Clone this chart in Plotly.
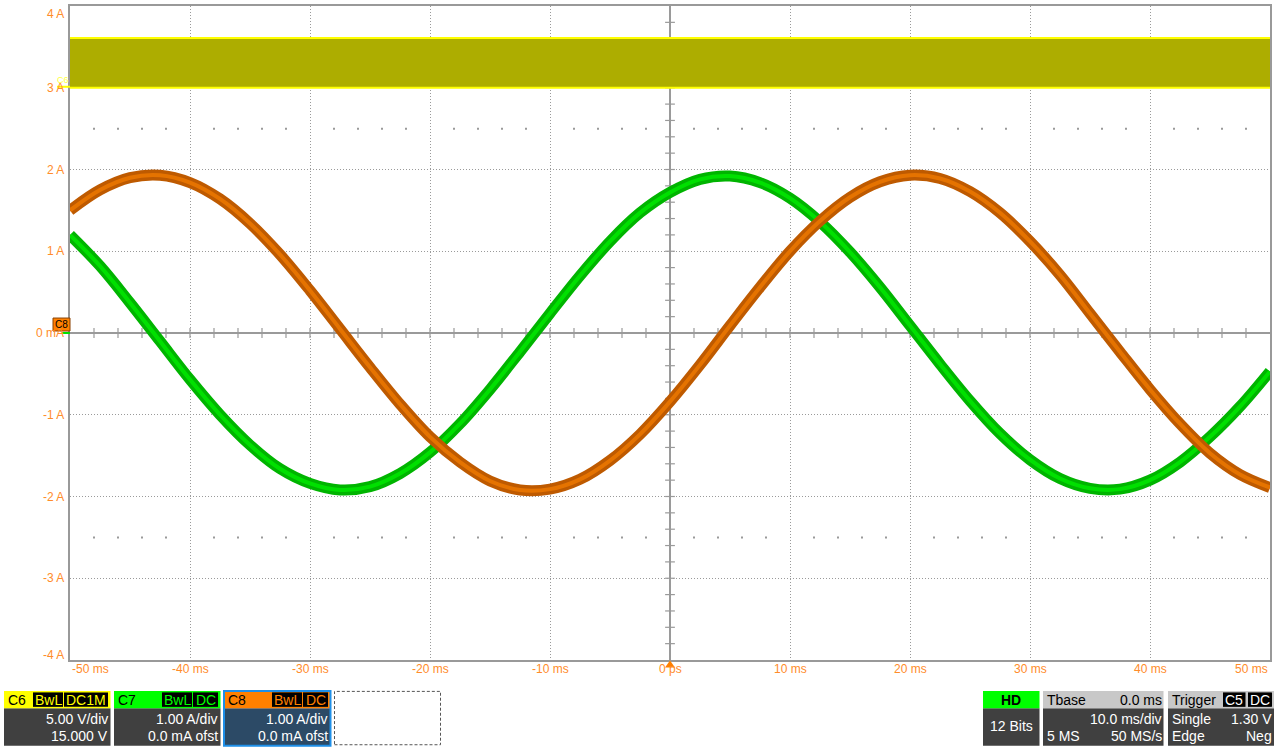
import plotly.graph_objects as go

# ---------------- data ----------------
time_ms = [-50, -47.5, -45, -42.5, -40, -37.5, -35, -32.5, -30, -27.5, -25, -22.5, -20, -17.5,
           -15, -12.5, -10, -7.5, -5, -2.5, 0, 2.5, 5, 7.5, 10, 12.5, 15, 17.5, 20, 22.5, 25,
           27.5, 30, 32.5, 35, 37.5, 40, 42.5, 45, 47.5, 50]

c7_green_A = [1.20, 0.82, 0.37, -0.10, -0.57, -1.00, -1.37, -1.66, -1.84, -1.92, -1.88, -1.72,
              -1.46, -1.11, -0.69, -0.23, 0.24, 0.70, 1.12, 1.47, 1.72, 1.88, 1.92, 1.84, 1.65,
              1.36, 0.99, 0.56, 0.09, -0.38, -0.83, -1.23, -1.55, -1.78, -1.90, -1.91, -1.80,
              -1.58, -1.27, -0.90, -0.47]

c8_orange_A = [1.50, 1.75, 1.90, 1.93, 1.84, 1.64, 1.34, 0.96, 0.52, 0.05, -0.42, -0.87, -1.27,
               -1.58, -1.81, -1.92, -1.91, -1.79, -1.56, -1.24, -0.84, -0.39, 0.09, 0.56, 1.00,
               1.37, 1.66, 1.85, 1.93, 1.89, 1.73, 1.47, 1.12, 0.71, 0.24, -0.23, -0.69, -1.11,
               -1.47, -1.73, -1.89]

c6_time_ms = [-50, 50]
c6_upper = [3.61, 3.61]
c6_lower = [3.00, 3.00]

x_tick_vals = [-50, -40, -30, -20, -10, 0, 10, 20, 30, 40, 50]
x_tick_text = ["-50 ms", "-40 ms", "-30 ms", "-20 ms", "-10 ms", "0 ps", "10 ms", "20 ms",
               "30 ms", "40 ms", "50 ms"]
y_tick_vals = [4, 3, 2, 1, 0, -1, -2, -3, -4]
y_tick_text = ["4 A", "3 A", "2 A", "1 A", "0 mA", "-1 A", "-2 A", "-3 A", "-4 A"]

# ---------------- helpers ----------------
W, H = 1280, 747
L, R, T, B = 70, 1270, 4, 660


def px(X):
    return (X - L) / (R - L)


def py(Y):
    return (B - Y) / (B - T)


FONT = "Liberation Sans, Arial, sans-serif"
LABEL_COL = "#FF8C2A"
GRID_COL = "#9a9a9a"

fig = go.Figure()

# sub-grid dot rows at +/-2.5 A
dot_x = [x for x in range(-48, 50, 2) if x % 10 != 0]
for yv in (2.5, -2.5):
    fig.add_trace(go.Scatter(x=dot_x, y=[yv] * len(dot_x), mode="markers",
                             marker=dict(symbol="square", size=2, color=GRID_COL),
                             hoverinfo="skip"))

# center-axis minor ticks
tx = [x for x in range(-48, 50, 2) if x != 0]
fig.add_trace(go.Scatter(x=tx, y=[0] * len(tx), mode="markers",
                         marker=dict(symbol="line-ns", size=7,
                                     line=dict(color=GRID_COL, width=1.2)),
                         hoverinfo="skip"))
ty = [k / 5 for k in range(-19, 20) if k != 0]
fig.add_trace(go.Scatter(x=[0] * len(ty), y=ty, mode="markers",
                         marker=dict(symbol="line-ew", size=7,
                                     line=dict(color=GRID_COL, width=1.2)),
                         hoverinfo="skip"))

# C6 band
fig.add_trace(go.Scatter(x=c6_time_ms, y=c6_lower, mode="lines",
                         line=dict(color="#FFFF00", width=2), hoverinfo="skip"))
fig.add_trace(go.Scatter(x=c6_time_ms, y=c6_upper, mode="lines", fill="tonexty",
                         fillcolor="#ADAD00", line=dict(color="#FFFF00", width=2),
                         hoverinfo="skip"))

# C7 green
fig.add_trace(go.Scatter(x=time_ms, y=c7_green_A, mode="lines", line_shape="spline",
                         line=dict(color="#00B400", width=11), hoverinfo="skip"))
fig.add_trace(go.Scatter(x=time_ms, y=c7_green_A, mode="lines", line_shape="spline",
                         line=dict(color="#00E000", width=4), hoverinfo="skip"))
# C8 orange
fig.add_trace(go.Scatter(x=time_ms, y=c8_orange_A, mode="lines", line_shape="spline",
                         line=dict(color="#BE5A00", width=11), hoverinfo="skip"))
fig.add_trace(go.Scatter(x=time_ms, y=c8_orange_A, mode="lines", line_shape="spline",
                         line=dict(color="#E57300", width=4), hoverinfo="skip"))

shapes = []
annotations = []

# center axes
shapes.append(dict(type="line", xref="x", yref="y", x0=0, x1=0, y0=-4, y1=4,
                   line=dict(color=GRID_COL, width=2), layer="below"))
shapes.append(dict(type="line", xref="x", yref="y", x0=-50, x1=50, y0=0, y1=0,
                   line=dict(color=GRID_COL, width=2), layer="below"))

# tick labels
for v, t in zip(y_tick_vals, y_tick_text):
    shift = -8 if v == 4 else (5 if v == -4 else 0)
    annotations.append(dict(xref="paper", yref="y", x=px(66), y=v, yshift=shift,
                            xanchor="right", yanchor="middle", text=t, showarrow=False,
                            font=dict(family=FONT, size=12, color=LABEL_COL)))
for v, t in zip(x_tick_vals, x_tick_text):
    anchor = "left" if v == -50 else ("right" if v == 50 else "center")
    annotations.append(dict(xref="x", yref="paper", x=v, y=py(669),
                            xanchor=anchor, yanchor="middle", text=t, showarrow=False,
                            font=dict(family=FONT, size=12, color=LABEL_COL)))

# trigger marker
shapes.append(dict(type="path", xref="paper", yref="paper",
                   path=f"M {px(670)} {py(660.5)} L {px(665)} {py(667.5)} L {px(675)} {py(667.5)} Z",
                   fillcolor="#FF8000", line=dict(width=0)))

# channel markers at left
shapes.append(dict(type="line", xref="paper", yref="paper", x0=px(57), x1=px(70),
                   y0=py(85), y1=py(85), line=dict(color="#FFFF00", width=2)))
annotations.append(dict(xref="paper", yref="paper", x=px(62.5), y=py(78), text="C6",
                        showarrow=False, xanchor="center", yanchor="middle",
                        font=dict(family=FONT, size=9, color="#FFFF40")))
shapes.append(dict(type="line", xref="paper", yref="paper", x0=px(62), x1=px(70),
                   y0=py(332), y1=py(332), line=dict(color="#00E000", width=2)))
shapes.append(dict(type="rect", xref="paper", yref="paper", x0=px(53), x1=px(70),
                   y0=py(330), y1=py(317), fillcolor="#FF8000",
                   line=dict(color="#8a4000", width=1)))
annotations.append(dict(xref="paper", yref="paper", x=px(61.5), y=py(323.5), text="C8",
                        showarrow=False, xanchor="center", yanchor="middle",
                        font=dict(family=FONT, size=10, color="#000000")))


def rect(x0, x1, y0, y1, fill, line_col=None, lw=0, dash=None):
    ln = dict(width=lw, color=line_col or fill)
    if dash:
        ln["dash"] = dash
    shapes.append(dict(type="rect", xref="paper", yref="paper", x0=px(x0), x1=px(x1),
                       y0=py(y1), y1=py(y0), fillcolor=fill, line=ln))


def text(x, y, s, color="#FFFFFF", anchor="left", size=14, bold=False):
    if bold:
        s = f"<b>{s}</b>"
    annotations.append(dict(xref="paper", yref="paper", x=px(x), y=py(y), text=s,
                            showarrow=False, xanchor=anchor, yanchor="middle",
                            borderpad=0,
                            font=dict(family=FONT, size=size, color=color)))


HDR0, HDR1, BODY1 = 691, 708.5, 746
BODY_COL = "#404040"

chan_boxes = [
    (4, 110.5, "#FFFF00", "C6", [("BwL", 33, 63), ("DC1M", 64, 108)], BODY_COL,
     "5.00 V/div", "15.000 V", "#FFFF00"),
    (114, 220.5, "#00FF00", "C7", [("BwL", 162, 192), ("DC", 193, 218)], BODY_COL,
     "1.00 A/div", "0.0 mA ofst", "#00FF00"),
    (224, 330.5, "#FF8000", "C8", [("BwL", 272, 302), ("DC", 303, 328)], "#2C4A66",
     "1.00 A/div", "0.0 mA ofst", "#FF8000"),
]
for x0, x1, hc, name, tags, bc, l1, l2, tc in chan_boxes:
    rect(x0, x1, HDR1, BODY1, bc)
    rect(x0, x1, HDR0, HDR1, hc)
    if name == "C8":
        rect(x0, x1, HDR0, BODY1, "rgba(0,0,0,0)", "#1E8FE8", 2)
    text(x0 + 3, (HDR0 + HDR1) / 2, name, color="#000000", size=14)
    for tg, a, b in tags:
        rect(a, b, HDR0 + 1.5, HDR1 - 1.5, "#000000")
        text((a + b) / 2, (HDR0 + HDR1) / 2, tg, color=tc, anchor="center", size=14)
    text(x1 - 1.5, 719, l1, anchor="right")
    text(x1 - 1.5, 736, l2, anchor="right")

rect(334.5, 440.5, 691.5, 745, "rgba(0,0,0,0)", "#555555", 1, dash="3px,2px")

rect(983, 1039.5, HDR1, BODY1, BODY_COL)
rect(983, 1039.5, HDR0, HDR1, "#00FF00")
text(1011, (HDR0 + HDR1) / 2, "HD", color="#000000", anchor="center", size=14, bold=True)
text(1011, 726, "12 Bits", anchor="center")

rect(1043, 1163.5, HDR1, BODY1, BODY_COL)
rect(1043, 1163.5, HDR0, HDR1, "#C8C8C8")
text(1046, (HDR0 + HDR1) / 2, "Tbase", color="#000000")
text(1162.5, (HDR0 + HDR1) / 2, "0.0 ms", color="#000000", anchor="right")
text(1162.5, 719, "10.0 ms/div", anchor="right")
text(1046, 736, "5 MS")
text(1162.5, 736, "50 MS/s", anchor="right")

rect(1168, 1274, HDR1, BODY1, BODY_COL)
rect(1168, 1274, HDR0, HDR1, "#C8C8C8")
text(1170.5, (HDR0 + HDR1) / 2, "Trigger", color="#000000")
rect(1223, 1245.5, HDR0 + 1.5, HDR1 - 1.5, "#000000")
text(1234.25, (HDR0 + HDR1) / 2, "C5", anchor="center")
rect(1248, 1272, HDR0 + 1.5, HDR1 - 1.5, "#000000")
text(1260, (HDR0 + HDR1) / 2, "DC", anchor="center")
text(1170.5, 719, "Single")
text(1272.5, 719, "1.30 V", anchor="right")
text(1170.5, 736, "Edge")
text(1272.5, 736, "Neg", anchor="right")

fig.update_layout(
    width=W, height=H,
    margin=dict(l=L, r=W - R, t=T, b=H - B, pad=0),
    paper_bgcolor="white", plot_bgcolor="white",
    showlegend=False, hovermode=False,
    shapes=shapes, annotations=annotations,
    font=dict(family=FONT),
    xaxis=dict(range=[-50, 50], tickvals=x_tick_vals, showticklabels=False, ticks="",
               showgrid=True, gridcolor=GRID_COL, griddash="1px,2px", gridwidth=1,
               zeroline=False, showline=True, linecolor="#999999", linewidth=1.5,
               mirror=True, fixedrange=True),
    yaxis=dict(range=[-4, 4], tickvals=y_tick_vals, showticklabels=False, ticks="",
               showgrid=True, gridcolor=GRID_COL, griddash="1px,2px", gridwidth=1,
               zeroline=False, showline=True, linecolor="#999999", linewidth=1.5,
               mirror=True, fixedrange=True),
)

fig.write_html("out.html", config={"displayModeBar": False},
               post_script="document.body.style.margin='0';document.body.style.padding='0';"
                           "document.body.style.overflow='hidden';")
